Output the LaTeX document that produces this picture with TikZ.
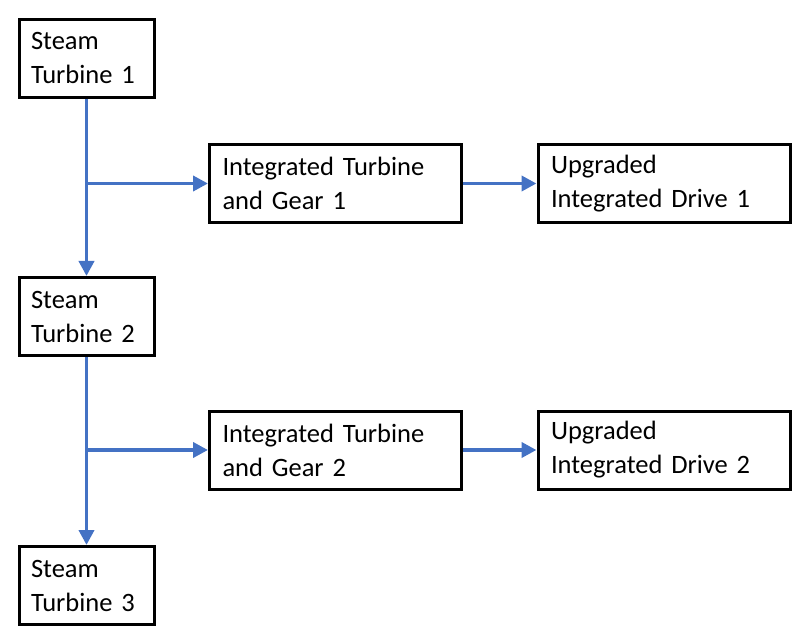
\documentclass[tikz,border=0pt]{standalone}
\usepackage{fontspec}
\setmainfont{Carlito}
\usetikzlibrary{arrows.meta}
\definecolor{flowblue}{HTML}{4472C4}
\tikzset{
  box/.style={draw=black, line width=3pt, fill=white, align=left, inner xsep=0pt,
    inner ysep=0pt, minimum height=78pt,
    font=\fontsize{26.5}{34}\selectfont},
  stbox/.style={box, minimum width=135pt, text width=111pt},
  widebox/.style={box, minimum width=252pt, text width=226pt},
  arr/.style={draw=flowblue, line width=3.8pt, -{Triangle[length=15pt,width=15pt]}}
}
\begin{document}
\begin{tikzpicture}[x=1pt,y=-1pt]
\useasboundingbox (0,0) rectangle (809,639);
\node[stbox] (st1) at (86.5,58.5) {Steam\\Turbine 1};
\node[widebox] (itg1) at (335.5,183.5) {Integrated Turbine\\and Gear 1};
\node[widebox] (uid1) at (664,183.5) {Upgraded\\Integrated Drive 1};
\node[stbox] (st2) at (86.5,316.5) {Steam\\Turbine 2};
\node[widebox] (itg2) at (335.5,450) {Integrated Turbine\\and Gear 2};
\node[widebox] (uid2) at (664,450) {Upgraded\\Integrated Drive 2};
\node[stbox] (st3) at (86.5,585.5) {Steam\\Turbine 3};
\draw[arr] (st1.south) -- (st2.north);
\draw[arr] (st1.south |- itg1.west) -- (itg1.west);
\draw[arr] (itg1.east) -- (uid1.west);
\draw[arr] (st2.south) -- (st3.north);
\draw[arr] (st2.south |- itg2.west) -- (itg2.west);
\draw[arr] (itg2.east) -- (uid2.west);
\end{tikzpicture}
\end{document}
